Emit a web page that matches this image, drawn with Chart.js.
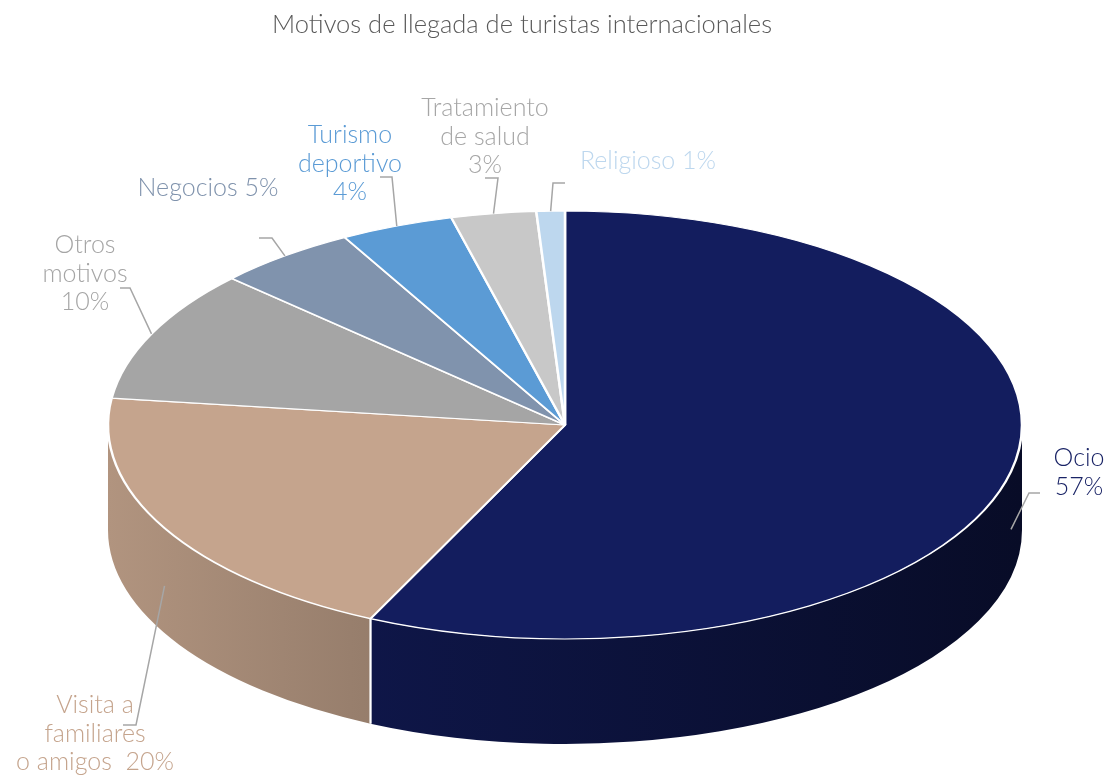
<!DOCTYPE html>
<html>
<head>
<meta charset="utf-8">
<script src="https://cdn.jsdelivr.net/npm/chart.js@4"></script>
<style>
  html, body { margin: 0; padding: 0; background: #ffffff; }
</style>
</head>
<body>
<canvas id="chartMotivos" width="1109" height="776"></canvas>
<script>
// Motivos de llegada de turistas internacionales (pie 3D)
const categories = ['Ocio', 'Visita a familiares o amigos', 'Otros motivos', 'Negocios', 'Turismo deportivo', 'Tratamiento de salud', 'Religioso'];
const shares = [57, 20, 10, 5, 4, 3, 1];
const labelWords = [['Ocio'], ['Visita a', 'familiares', 'o amigos '], ['Otros', 'motivos'], ['Negocios'], ['Turismo', 'deportivo'], ['Tratamiento', 'de salud'], ['Religioso']];
const pctOwnLine = [true, false, true, false, true, true, false];

const sliceColors = ['#131d5e', '#c5a48d', '#a5a5a5', '#8093ad', '#5b9bd5', '#c8c8c8', '#bdd7ee'];
const labelColors = ['#1a2466', '#c5a48d', '#a5a5a5', '#7f92ac', '#5b9bd5', '#a6a6a6', '#bdd7ee'];

// where the flattened pie sits on the page
const PIE = { cx: 565, cy: 425, rx: 457, ry: 214, depth: 105 };
// label text centre / first line, leader elbow and stub end
const labelLayout = [
    { x: 1079, y: 458, elbow: [1029, 493], stub: [1040, 493] },
    { x: 95, y: 705, elbow: [136, 725], stub: [123, 725] },
    { x: 85, y: 245, elbow: [130, 288], stub: [120, 288] },
    { x: 208, y: 188, elbow: [272, 238], stub: [259, 238] },
    { x: 350, y: 135, elbow: [392, 177], stub: [380, 177] },
    { x: 485, y: 108, elbow: [498, 178], stub: [485, 178] },
    { x: 648, y: 161, elbow: [553, 183], stub: [565, 183] }
];
const LINE_STEP = 28.7;
const FONT = '300 25px Lato';

function shade(hex, f) {
    const n = parseInt(hex.slice(1), 16);
    const r = Math.round(((n >> 16) & 255) * f);
    const g = Math.round(((n >> 8) & 255) * f);
    const b = Math.round((n & 255) * f);
    return `rgb(${r},${g},${b})`;
}

// parts of an arc that face the viewer (lower half of the ellipse)
function frontSpans(a, b) {
    const spans = [];
    for (let k = -1; k <= 1; k++) {
        const lo = Math.max(a, 2 * Math.PI * k);
        const hi = Math.min(b, 2 * Math.PI * k + Math.PI);
        if (hi > lo) spans.push([lo, hi]);
    }
    return spans;
}

const pie3d = {
    id: 'pie3d',
    beforeDatasetsDraw(chart) {
        const ctx = chart.ctx;
        const meta = chart.getDatasetMeta(0);
        const first = meta.data[0];
        const { cx, cy, rx, ry, depth } = PIE;

        // side walls
        meta.data.forEach((arc, i) => {
            frontSpans(arc.startAngle, arc.endAngle).forEach(([lo, hi]) => {
                const grad = ctx.createLinearGradient(cx - rx, 0, cx + rx, 0);
                grad.addColorStop(0, shade(sliceColors[i], 0.9));
                grad.addColorStop(1, shade(sliceColors[i], 0.42));
                ctx.beginPath();
                ctx.ellipse(cx, cy, rx, ry, 0, lo, hi, false);
                ctx.lineTo(cx + rx * Math.cos(hi), cy + ry * Math.sin(hi) + depth);
                ctx.ellipse(cx, cy + depth, rx, ry, 0, hi, lo, true);
                ctx.closePath();
                ctx.fillStyle = grad;
                ctx.fill();

                ctx.strokeStyle = '#ffffff';
                ctx.lineWidth = 2;
                [lo, hi].forEach(t => {
                    if (Math.sin(t) > 0.02) {
                        const x = cx + rx * Math.cos(t), y = cy + ry * Math.sin(t);
                        ctx.beginPath();
                        ctx.moveTo(x, y);
                        ctx.lineTo(x, y + depth);
                        ctx.stroke();
                    }
                });
            });
        });

        // flatten the library's round pie onto the top face
        ctx.save();
        ctx.translate(cx, cy);
        ctx.scale(rx / first.outerRadius, ry / first.outerRadius);
        ctx.translate(-first.x, -first.y);
    },
    afterDatasetsDraw(chart) {
        const ctx = chart.ctx;
        ctx.restore();
        const meta = chart.getDatasetMeta(0);
        const { cx, cy, rx, ry, depth } = PIE;

        meta.data.forEach((arc, i) => {
            const mid = (arc.startAngle + arc.endAngle) / 2;
            let ax = cx + rx * Math.cos(mid);
            let ay = cy + ry * Math.sin(mid);
            if (Math.sin(mid) > 0) ay += depth * 0.55;
            const L = labelLayout[i];

            ctx.strokeStyle = '#a6a6a6';
            ctx.lineWidth = 1.5;
            ctx.beginPath();
            ctx.moveTo(L.stub[0], L.stub[1]);
            ctx.lineTo(L.elbow[0], L.elbow[1]);
            ctx.lineTo(ax, ay);
            ctx.stroke();

            const lines = labelWords[i].slice();
            const pct = shares[i] + '%';
            if (pctOwnLine[i]) lines.push(pct);
            else lines[lines.length - 1] += ' ' + pct;

            ctx.font = FONT;
            ctx.fillStyle = labelColors[i];
            ctx.textAlign = 'center';
            ctx.textBaseline = 'middle';
            lines.forEach((t, k) => ctx.fillText(t, L.x, L.y + k * LINE_STEP));
        });
    }
};

const ctxMotivos = document.getElementById('chartMotivos').getContext('2d');
const chartMotivos = new Chart(ctxMotivos, {
    type: 'pie',
    data: {
        labels: categories,
        datasets: [{
            label: 'Participación',
            data: shares,
            backgroundColor: sliceColors,
            borderColor: '#ffffff',
            borderWidth: 2,
            clip: false
        }]
    },
    options: {
        responsive: false,
        animation: false,
        events: [],
        layout: { padding: { right: 65 } },
        plugins: {
            legend: { display: false },
            tooltip: { enabled: false },
            title: {
                display: true,
                text: 'Motivos de llegada de turistas internacionales',
                color: '#595959',
                font: { family: 'Lato', size: 25.5, weight: '300' },
                padding: { top: 9, bottom: 10 }
            }
        }
    },
    plugins: [pie3d]
});
</script>
</body>
</html>
